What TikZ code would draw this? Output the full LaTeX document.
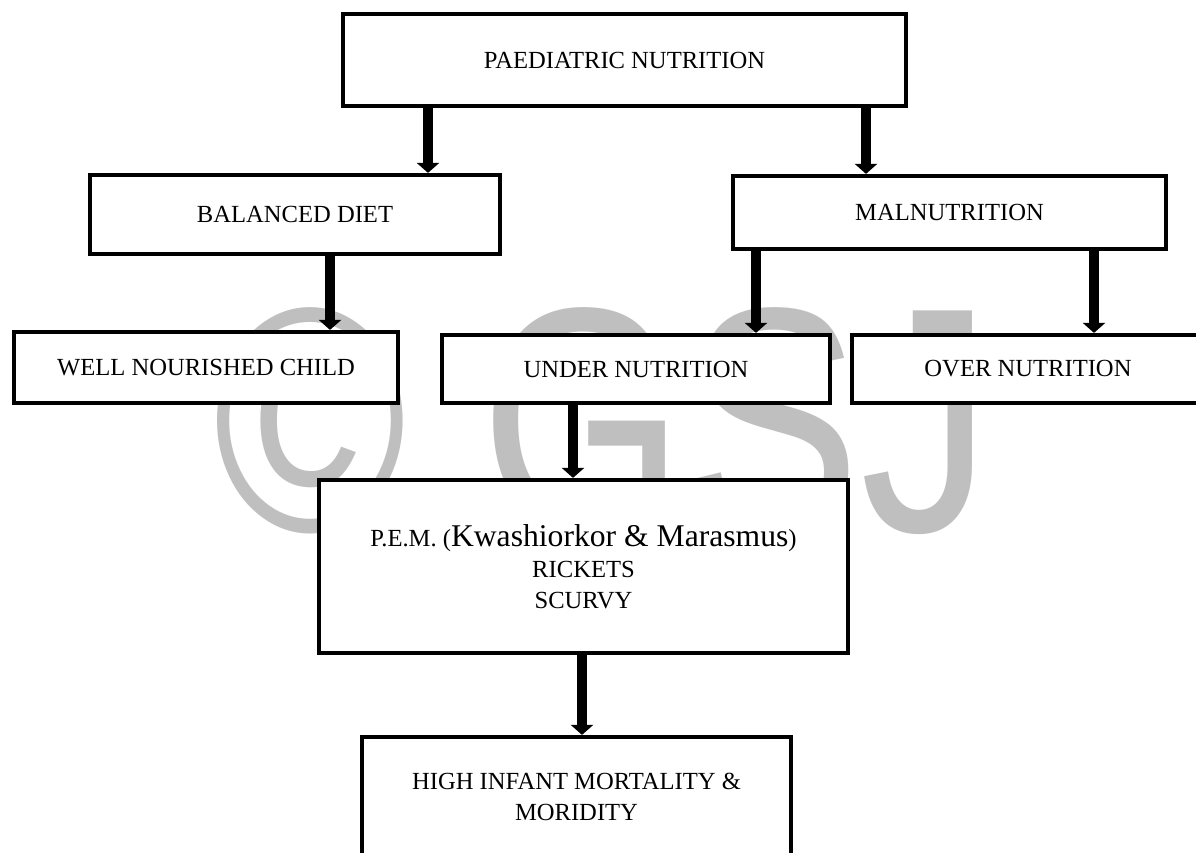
\documentclass[tikz,border=0pt]{standalone}
\usepackage{fontspec}
\usepackage{graphicx}
\setmainfont{Liberation Serif}
\newfontfamily\markfont{Liberation Sans}
\usetikzlibrary{arrows.meta}
\begin{document}
\begin{tikzpicture}[x=0.2mm,y=-0.2mm,
    box/.style={draw,fill=white,line width=2.4pt,inner sep=0pt,align=center,
      font=\fontsize{14}{17.5}\selectfont},
    link/.style={line width=5.7pt,-{Triangle[width=4.4mm,length=2mm]}}]
  \useasboundingbox (0,0) rectangle (1196,852);
  % watermark
  \node[text=gray!50,font=\markfont,inner sep=0pt] (mark) at (603,421)
    {\resizebox*{155.6mm}{45.4mm}{© GSJ}};
  % boxes
  \node[box,minimum width=112.6mm,minimum height=18.4mm] (nutri) at (624.5,60) {PAEDIATRIC NUTRITION};
  \node[box,minimum width=82mm,minimum height=15.8mm] (diet) at (295,214.5) {BALANCED DIET};
  \node[box,minimum width=86.6mm,minimum height=14.6mm] (maln) at (949.5,212.5) {MALNUTRITION};
  \node[box,minimum width=76.8mm,minimum height=14.2mm] (well) at (206,367.5) {WELL NOURISHED CHILD};
  \node[box,minimum width=77.6mm,minimum height=13.6mm] (under) at (636,369) {UNDER NUTRITION};
  \node[box,minimum width=70.4mm,minimum height=13.6mm] (over) at (1028,369) {OVER NUTRITION};
  \node[box,minimum width=105.8mm,minimum height=34.6mm] (pem) at (583.5,566.5)
    {P.E.M. ({\fontsize{18}{17.5}\selectfont Kwashiorkor \& Marasmus})\\ RICKETS\\ SCURVY};
  \node[box,minimum width=85.8mm,minimum height=24mm] (high) at (576.5,797)
    {HIGH INFANT MORTALITY \&\\ MORIDITY};
  % arrows
  \coordinate (d1) at ([xshift=26.6mm]diet.north);
  \coordinate (d2) at ([xshift=-16.7mm]maln.north);
  \coordinate (d3) at ([xshift=24.8mm]well.north);
  \coordinate (d4) at ([xshift=24mm]under.north);
  \coordinate (d5) at ([xshift=13.2mm]over.north);
  \coordinate (d6) at ([xshift=-2.1mm]pem.north);
  \coordinate (d7) at ([xshift=1.1mm]high.north);
  \draw[link] (nutri.south -| d1) -- (d1);
  \draw[link] (nutri.south -| d2) -- (d2);
  \draw[link] (diet.south -| d3) -- (d3);
  \draw[link] (maln.south -| d4) -- (d4);
  \draw[link] (maln.south -| d5) -- (d5);
  \draw[link] (under.south -| d6) -- (d6);
  \draw[link] (pem.south -| d7) -- (d7);
\end{tikzpicture}
\end{document}
